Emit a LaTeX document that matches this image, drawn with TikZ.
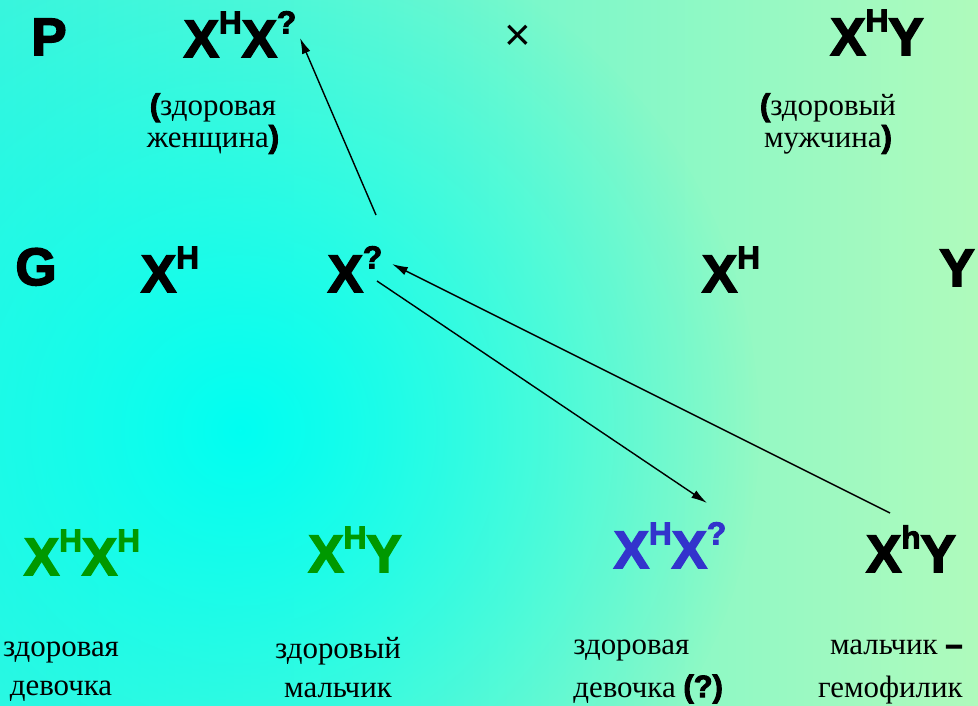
\documentclass[tikz,border=0pt]{standalone}
\usepackage{fontspec}
\setmainfont{Liberation Serif}
\newfontfamily\heavy[BoldFeatures={FakeBold=3}]{Liberation Sans}
\usetikzlibrary{calc,fadings,arrows.meta}
\definecolor{bgleft}{RGB}{60,245,220}
\definecolor{bgright}{RGB}{175,250,188}
\definecolor{bgcyan}{RGB}{0,255,242}
\definecolor{healthy}{RGB}{0,153,0}
\definecolor{carrier}{RGB}{51,51,204}
\tikzfading[name=glow, inner color=transparent!0, outer color=transparent!100]
\newcommand{\hi}[1]{\raisebox{0.45em}{\fontsize{18}{18}\selectfont #1}}
\newcommand{\bpar}[1]{{\heavy\bfseries #1}}

\begin{document}
\begin{tikzpicture}[x=0.02cm, y=-0.02cm,
        geno/.style={font=\heavy\bfseries\fontsize{30}{36}\selectfont, anchor=base, inner sep=0pt},
        rus/.style={font=\fontsize{17.6}{22}\selectfont, align=center, inner sep=0pt},
        arr/.style={-{Latex[length=9pt,width=5pt]}, line width=0.8pt}
    ]

    % background
    \useasboundingbox (0,0) rectangle (978,706);
    \shade[left color=bgleft, right color=bgright] (0,0) rectangle (978,706);
    \fill[bgcyan, path fading=glow] (240,430) circle (520);

    % parents
    \node[geno] (P1) at (49,55) {P};
    \node[geno] (mom) at (240,57) {X\hi{H}X\hi{?}};
    \node[font=\heavy\fontsize{26}{26}\selectfont] (cross) at (518,38) {×};
    \node[geno] (dad) at (877,55) {X\hi{H}Y};
    \node[rus, anchor=north, font=\fontsize{17.6}{18}\selectfont] (momtxt) at (213,93) {\bpar{(}здоровая\\женщина\bpar{)}};
    \node[rus, anchor=north, font=\fontsize{17.6}{18}\selectfont] (dadtxt) at (828,93) {\bpar{(}здоровый\\мужчина\bpar{)}};

    % gametes
    \node[geno] (G1) at (36,285) {G};
    \node[geno] (gXH1) at (170,292) {X\hi{H}};
    \node[geno] (gq) at (355,292) {X\hi{?}};
    \node[geno] (gXH2) at (731,292) {X\hi{H}};
    \node[geno] (gY) at (957,286) {Y};

    % children
    \node[geno, text=healthy] (f1) at (82,575) {X\hi{H}X\hi{H}};
    \node[geno, text=healthy] (f2) at (355,572) {X\hi{H}Y};
    \node[geno, text=carrier] (f3) at (670,568) {X\hi{H}X\hi{?}};
    \node[geno] (f4) at (911,572) {X\hi{h}Y};
    \node[rus, anchor=north] (t1) at (61,642) {здоровая\\девочка};
    \node[rus, anchor=north] (t2) at (338,637) {здоровый\\мальчик};
    \node[rus, anchor=north west, align=left, font=\fontsize{17.6}{24}\selectfont] (t3) at (573,640) {здоровая\\девочка \bpar{(?)}};
    \node[rus, anchor=north east, align=right, font=\fontsize{17.6}{24}\selectfont] (t4) at (963,640) {мальчик \bpar{–}\\гемофилик};

    % arrows
    \draw[arr] ($(gq.base)+(21,-77)$) -- ($(mom.base)+(60,-19)$);
    \draw[arr] ($(gq.base)+(22,-11)$) -- ($(f3.base)+(37,-65)$);
    \draw[arr] ($(f4.base)+(-21,-59)$) -- ($(gq.base)+(37,-28)$);
\end{tikzpicture}
\end{document}
